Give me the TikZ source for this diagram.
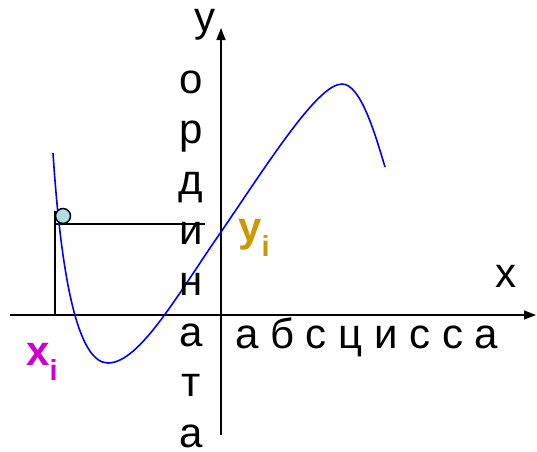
\documentclass[tikz,border=0pt]{standalone}
\usepackage{fontspec}
\setmainfont{Liberation Sans}
\usetikzlibrary{arrows.meta}
\definecolor{curveblue}{RGB}{0,0,255}
\definecolor{ximag}{RGB}{204,0,204}
\definecolor{yigold}{RGB}{204,153,0}
\definecolor{ptfill}{RGB}{176,221,224}
\begin{document}
\begin{tikzpicture}[x=1pt,y=-1pt,
  axis/.style={line width=1.5pt,-{Triangle[length=12pt,width=9pt]}},
  guide/.style={line width=1.5pt},
  lbl/.style={inner sep=0pt,anchor=base,font=\fontsize{42}{50}\selectfont},
  sublbl/.style={inner sep=0pt,anchor=base west,font=\fontsize{42}{50}\selectfont\bfseries}]
\useasboundingbox (0,0) rectangle (537,451);
% axes
\coordinate (xs) at (10,315);
\coordinate (xe) at (536,315);
\coordinate (ys) at (221,435);
\coordinate (ye) at (221,28);
\draw[axis] (xs) -- (xe);
\draw[axis] (ys) -- (ye);
% guides
\coordinate (g1) at (55,315);
\coordinate (g0) at (55,211);
\coordinate (g2) at (55,224);
\coordinate (g3) at (205,224);
\draw[guide] (g1) -- (g0);
\draw[guide] (g2) -- (g3);
% curve
\draw[curveblue,line width=1.6pt]
  (53,153) .. controls (62,290) and (80,363) .. (108,363)
  .. controls (140,363) and (179,292) .. (221,232)
  .. controls (270,160) and (318,84) .. (342,84)
  .. controls (360,84) and (374,130) .. (385,167);
% point
\node[circle,draw,line width=1.5pt,fill=ptfill,minimum size=15pt,inner sep=0pt] (pt) at (63,216) {};
% labels
\node[lbl] (ylab) at (205,31) {y};
\node[lbl] (xlab) at (506,287) {x};
\foreach \t [count=\k from 0] in {о,р,д,и,н,а,т,а}{
  \node[lbl] (v\k) at (191,{93+50.6*\k}) {\t};
}
\node[lbl,anchor=base west] (abs) at (235,348) {а б с ц и с с а};
\node[sublbl,text=ximag] (xi) at (26,365) {x\raisebox{-15pt}{\fontsize{29}{30}\selectfont i}};
\node[sublbl,text=yigold] (yi) at (238,241) {y\raisebox{-15pt}{\fontsize{29}{30}\selectfont i}};
\end{tikzpicture}
\end{document}
